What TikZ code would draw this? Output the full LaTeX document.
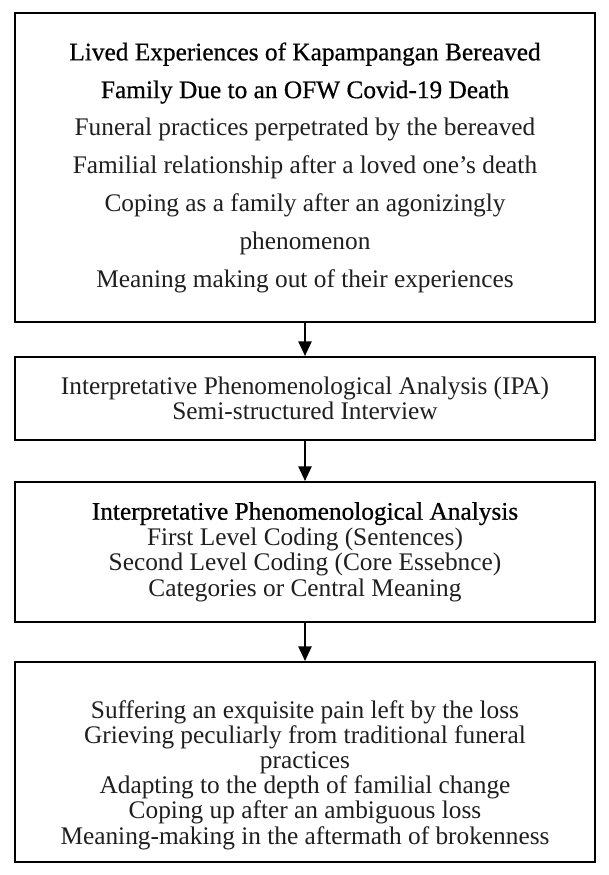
\documentclass[tikz,border=0pt]{standalone}
\usepackage{fontspec}
\setmainfont{Liberation Serif}
\newfontfamily\heavyfont{Liberation Serif}[FakeBold=0.6]
\usetikzlibrary{arrows.meta}
\begin{document}
\begin{tikzpicture}[x=0.45pt,y=-0.45pt,
  box/.style={draw=black, line width=1pt, minimum width=261pt, align=center,
    inner sep=0pt, text=black!88, font=\fontsize{11.4}{11.5}\selectfont},
  link/.style={draw=black, line width=0.5pt, -{Triangle[width=6pt,length=6.5pt]}}]
\useasboundingbox (0,0) rectangle (609,875);
\fill[white] (0,0) rectangle (609,875);
\node[box, minimum height=139pt, font=\fontsize{11.4}{17}\selectfont] (b1) at (305,167.5)
 {{\heavyfont\color{black}Lived Experiences of Kapampangan Bereaved}\\
  {\heavyfont\color{black}Family Due to an OFW Covid-19 Death}\\
  Funeral practices perpetrated by the bereaved\\
  Familial relationship after a loved one’s death\\
  Coping as a family after an agonizingly\\
  phenomenon\\
  Meaning making out of their experiences};
\node[box, minimum height=37.35pt] (b2) at (305,398.5)
 {Interpretative Phenomenological Analysis (IPA)\\
  Semi-structured Interview};
\node[box, minimum height=63pt] (b3) at (305,552)
 {{\heavyfont\color{black}Interpretative Phenomenological Analysis}\\
  First Level Coding (Sentences)\\
  Second Level Coding (Core Essebnce)\\
  Categories or Central Meaning};
\node[box, minimum height=90pt, font=\fontsize{11.4}{11.3}\selectfont] (b4) at (305,762)
 {\mbox{}\\[8.5pt]
  Suffering an exquisite pain left by the loss\\
  Grieving peculiarly from traditional funeral\\
  practices\\
  Adapting to the depth of familial change\\
  Coping up after an ambiguous loss\\
  Meaning-making in the aftermath of brokenness};
\draw[link] (b1) -- (b2);
\draw[link] (b2) -- (b3);
\draw[link] (b3) -- (b4);
\end{tikzpicture}
\end{document}
